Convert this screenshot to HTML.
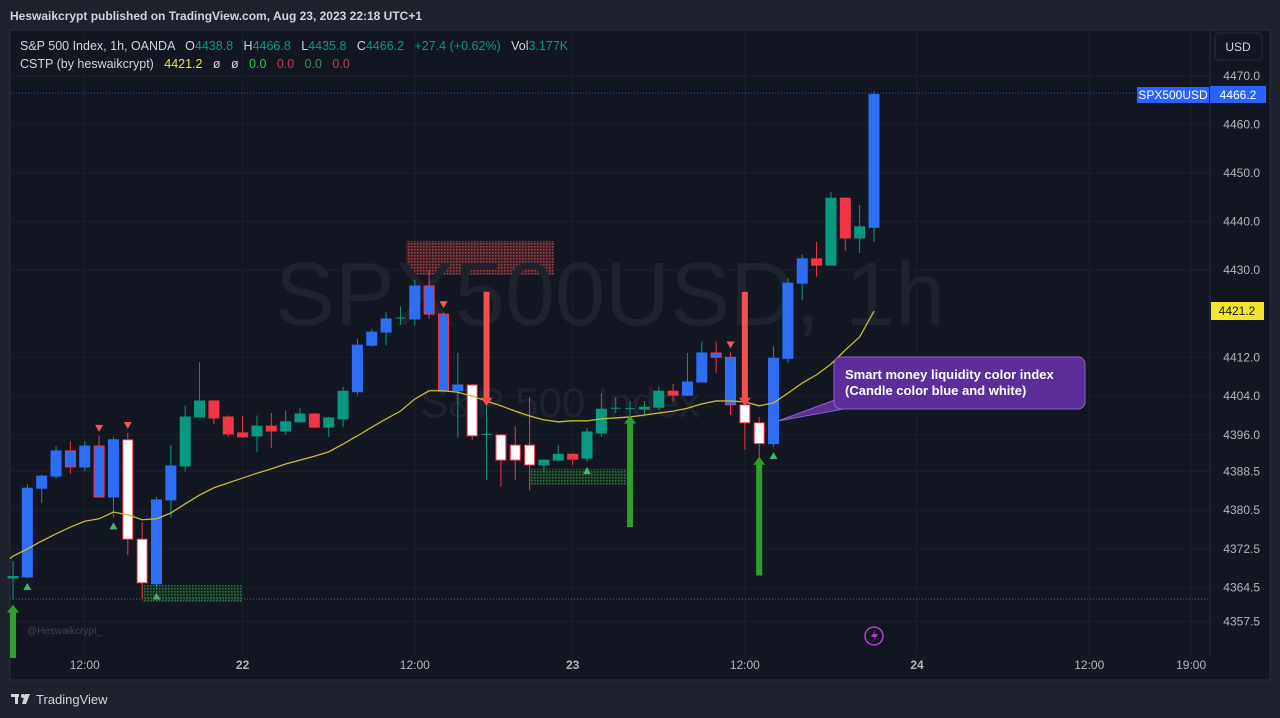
<!DOCTYPE html>
<html><head><meta charset="utf-8">
<style>
html,body{margin:0;padding:0;background:#1e222d;}
svg{display:block;font-family:"Liberation Sans",sans-serif;}
</style></head>
<body>
<svg id="chart" width="1280" height="718" viewBox="0 0 1280 718" xmlns="http://www.w3.org/2000/svg">
<defs>
<pattern id="redDots" width="3" height="3" patternUnits="userSpaceOnUse"><rect width="3" height="3" fill="#3a1e25"/><rect width="1.5" height="1.5" fill="#a8404a"/></pattern>
<pattern id="grnDots" width="3" height="3" patternUnits="userSpaceOnUse"><rect width="3" height="3" fill="#15261f"/><rect width="1.5" height="1.5" fill="#2f7a44"/></pattern>
</defs>
<rect x="0" y="0" width="1280" height="718" fill="#1e222d"/>
<text x="10" y="20" fill="#d1d4dc" font-size="12" font-weight="bold">Heswaikcrypt published on TradingView.com, Aug 23, 2023 22:18 UTC+1</text>
<rect x="10" y="30" width="1260" height="650" fill="#131722" stroke="#2a2e39"/>
<g id="grid"></g>
<g id="zones"></g>
<text x="610" y="325" text-anchor="middle" fill="#1f2330" font-size="90">SPX500USD, 1h</text>
<text x="560" y="417" text-anchor="middle" fill="#1f2330" font-size="42">S&amp;P 500 Index</text>
<g id="marks"></g>
<line x1="10" y1="93" x2="1210" y2="93" stroke="#2962ff" stroke-dasharray="1,2" opacity="0.8"/>
<line x1="10" y1="599" x2="1210" y2="599" stroke="#5d606b" stroke-dasharray="1,2"/>
<g id="callout">
<polygon points="840,398 860,406 778,421" fill="#5b2e99" stroke="#8a63c9"/>
<rect x="834" y="357" width="251" height="52" rx="7" fill="#5b2e99" stroke="#8a63c9"/>
<text x="845" y="379" fill="#fff" font-size="13" font-weight="bold">Smart money liquidity color index</text>
<text x="845" y="395" fill="#fff" font-size="13" font-weight="bold">(Candle color blue and white)</text>
</g>
<g><circle cx="874" cy="636" r="9" fill="none" stroke="#b43fd4" stroke-width="1.5"/><path d="M876 629 L871 637 L875 637 L872 643 L878 634 L874 634 Z" fill="#b43fd4"/></g>
<text x="27" y="634" fill="#3f4350" font-size="10">@Heswaikcrypt_</text>
<text x="20" y="50" font-size="12.5" xml:space="preserve"><tspan fill="#d1d4dc">S&amp;P 500 Index, 1h, OANDA   O</tspan><tspan fill="#089981">4438.8</tspan><tspan fill="#d1d4dc">   H</tspan><tspan fill="#089981">4466.8</tspan><tspan fill="#d1d4dc">   L</tspan><tspan fill="#089981">4435.8</tspan><tspan fill="#d1d4dc">   C</tspan><tspan fill="#089981">4466.2   +27.4 (+0.62%)</tspan><tspan fill="#d1d4dc">   Vol</tspan><tspan fill="#089981">3.177K</tspan></text>
<text x="20" y="68" font-size="12.5" xml:space="preserve"><tspan fill="#d1d4dc">CSTP (by heswaikcrypt)   </tspan><tspan fill="#f0e13a">4421.2</tspan><tspan fill="#d1d4dc">   ø   ø   </tspan><tspan fill="#2ec940">0.0</tspan><tspan fill="#c23c4c">   0.0</tspan><tspan fill="#3a8f4c">   0.0</tspan><tspan fill="#c23c4c">   0.0</tspan></text>
<line x1="1210" y1="30" x2="1210" y2="655" stroke="#2a2e39"/>
<rect x="1215" y="33" width="47" height="27" rx="4" fill="#131722" stroke="#2a2e39"/>
<text x="1238" y="51" text-anchor="middle" fill="#d1d4dc" font-size="12">USD</text>
<g id="yaxis"></g>
<g id="xaxis"></g>
<rect x="1137" y="87" width="72" height="16" fill="#2962ff"/>
<text x="1173" y="99" text-anchor="middle" fill="#fff" font-size="12">SPX500USD</text>
<rect x="1210" y="86" width="56" height="17" fill="#2962ff"/>
<text x="1238" y="99" text-anchor="middle" fill="#fff" font-size="12">4466.2</text>
<rect x="1211" y="302" width="53" height="18" fill="#f5e52a"/>
<text x="1237" y="315" text-anchor="middle" fill="#131722" font-size="12">4421.2</text>
<g><rect x="11" y="694" width="8" height="3" fill="#d1d4dc"/><rect x="15" y="694" width="3" height="10" fill="#d1d4dc"/><circle cx="23" cy="696" r="2" fill="#d1d4dc"/><polygon points="25,694 30,694 26,704 22,704" fill="#d1d4dc"/></g>
<text x="36" y="704" fill="#d1d4dc" font-size="13">TradingView</text>
</svg>
<script>
const opens =  [4366.5,4366.7,4385,4387.5,4392.7,4389.4,4393.7,4383.2,4395,4374.5,4365.3,4382.6,4389.6,4399.7,4403,4399.7,4396.4,4395.8,4397.8,4396.8,4398.7,4400.3,4397.6,4399.3,4404.9,4414.5,4417.2,4420,4419.9,4426.7,4420.9,4405.1,4406.3,4396,4396,4393.9,4393.9,4389.8,4390.8,4392,4391.2,4396.4,4401.3,4401.4,4401.3,4401.7,4405,4404.2,4406.9,4412.9,4412,4402.2,4398.5,4394.2,4411.8,4427.3,4432.3,4431,4444.8,4436.6,4438.8];
const highs =  [4370,4385.8,4387.8,4393.7,4394.7,4394.7,4395.8,4395.6,4396.4,4378,4383.2,4393.9,4402,4411,4403.2,4400,4399.9,4400,4400.5,4401,4401.5,4400.5,4399.7,4405.9,4415.8,4417.8,4421.3,4422.5,4428,4430,4421.3,4412.9,4406.5,4402.6,4396.2,4397.8,4403.8,4390.8,4393.9,4392.2,4397.4,4404.6,4403.8,4403,4403,4406,4406.5,4412.9,4415.2,4415.2,4413,4402.5,4399.7,4414.3,4428.3,4433.2,4435.8,4446.1,4445,4443.4,4466.8];
const lows =   [4362,4366.5,4382,4387,4388,4388.5,4383,4379,4371.2,4362.2,4364.5,4379,4388.4,4399.7,4398.2,4395.6,4395.4,4392.5,4393.3,4396,4398.5,4397.4,4395.6,4397.6,4404.2,4414.2,4414.5,4418.7,4418.5,4420,4404.9,4395.4,4395,4386.7,4385.3,4386.7,4384.6,4388.4,4390.6,4389.8,4390.4,4395.6,4400.5,4399.8,4399.8,4401.2,4402.8,4404,4406.9,4408.8,4400.1,4393,4390.2,4393.5,4410.8,4423.8,4428.6,4431,4434,4433.5,4435.8];
const closes = [4366.8,4385,4387.5,4392.7,4389.4,4393.7,4383.2,4395,4374.5,4365.5,4382.6,4389.6,4399.7,4403,4399.5,4396.2,4395.6,4397.8,4396.8,4398.7,4400.3,4397.6,4399.5,4405,4414.5,4417.2,4419.9,4420.1,4426.7,4420.9,4405,4406.3,4395.8,4396.1,4390.8,4390.8,4389.8,4390.8,4392,4391,4396.6,4401.3,4401.5,4401.4,4401.7,4405,4404.2,4406.9,4412.9,4412,4402.2,4398.5,4394.2,4411.8,4427.3,4432.3,4431,4444.8,4436.6,4438.9,4466.2];
const kinds = "gbbbbbbbwwbbggrrrgrggrgg"+"bbbgbbbb"+"wgwww"+"ggrgggggg"+"r"+"bbbb"+"ww"+"bbb"+"rgrgb";
const maValues = [4371.0,4372.5,4374.1,4375.6,4377.0,4378.2,4378.7,4380.1,4379.5,4378.5,4378.7,4379.9,4381.8,4383.6,4385.1,4386.1,4387.1,4388.1,4389.0,4390.0,4390.8,4391.6,4392.5,4394.1,4395.8,4397.6,4399.3,4400.9,4403.4,4405.1,4405.1,4404.8,4404.0,4403.0,4402.0,4400.9,4399.9,4399.1,4398.7,4398.9,4398.9,4399.3,4399.5,4399.7,4400.1,4400.5,4400.9,4401.5,4402.4,4403.0,4403.0,4402.8,4402.0,4402.6,4404.6,4406.7,4408.4,4410.6,4413.5,4416.2,4421.5];
const priceTicks = [4470,4460,4450,4440,4430,4412,4404,4396,4388.5,4380.5,4372.5,4364.5,4357.5];
const timeLabels = ["12:00","22","12:00","23","12:00","24","12:00","19:00"];
const timeIdx = [5,16,28,39,51,63,75,82.1];
const sellSignals = [6,8,30,50];
const buySignals = [1,7,10,40,53];
const downArrows = [[33,4425.5,4402],[51,4425.5,4402]];
const upArrows = [[43,4377,4400],[52,4367,4391.5],[0,4350,4361]];
const supplyZone = [27.4,37.7,4436,4429];
const demandZones = [[9,16,4365,4361.6],[36.0,42.8,4389,4385.7]];

const NS="http://www.w3.org/2000/svg";
const X=i=>13+i*14.35;
const Y=p=>76+(4470-p)*4.85;
function mk(tag,attrs,parent){const e=document.createElementNS(NS,tag);for(const k in attrs)e.setAttribute(k,attrs[k]);parent.appendChild(e);return e;}
const grid=document.getElementById('grid'),marks=document.getElementById('marks'),ya=document.getElementById('yaxis'),xa=document.getElementById('xaxis'),zones=document.getElementById('zones');
priceTicks.forEach(p=>{
  const l=mk('line',{x1:10,x2:1210,y1:Y(p),y2:Y(p),stroke:'#1c202b'},grid);
  
  
  const t=mk('text',{x:1260,y:Y(p)+4,'text-anchor':'end',fill:'#b2b5be','font-size':12},ya);
  t.textContent=p.toFixed(1);
  
  
});
timeLabels.forEach((s,k)=>{
  const x=X(timeIdx[k]);
  const l=mk('line',{x1:x,x2:x,y1:30,y2:655,stroke:'#1c202b'},grid);
  
  
  const t=mk('text',{x:x,y:669,'text-anchor':'middle',fill:'#b2b5be','font-size':12,'font-weight':s.length<3?'bold':'normal'},xa);
  t.textContent=s;
  
  
});
{const z=mk('rect',{x:X(supplyZone[0]),y:Y(supplyZone[2]),width:X(supplyZone[1])-X(supplyZone[0]),height:Y(supplyZone[3])-Y(supplyZone[2]),fill:'url(#redDots)'},zones);

}
demandZones.forEach(d=>{const z=mk('rect',{x:X(d[0]),y:Y(d[2]),width:X(d[1])-X(d[0]),height:Y(d[3])-Y(d[2]),fill:'url(#grnDots)'},zones);

});
const col={b:['#2e6ef5','#2e6ef5'],w:['#ffffff','#f23645'],g:['#089981','#089981'],r:['#f23645','#f23645']};
opens.forEach((o,i)=>{
  const c=closes[i],k=kinds[i]||'b',x=X(i);
  let fill=col[k][0],stroke=col[k][1];
  if(k==='b'&&c<o)stroke='#f23645';
  const wick=(k==='g'||(k==='b'&&c>=o))?'#089981':'#f23645';
  const g=mk('g',{},marks);
  
  
  mk('line',{x1:x,x2:x,y1:Y(highs[i]),y2:Y(lows[i]),stroke:wick,'stroke-width':1},g);
  const top=Y(Math.max(o,c)),h=Math.max(1.5,Math.abs(Y(o)-Y(c)));
  if(Math.abs(o-c)<0.25&&k==='g') mk('line',{x1:x-5,x2:x+5,y1:top,y2:top,stroke:'#089981'},g);
  else mk('rect',{x:x-5,y:top,width:10,height:h,fill:fill,stroke:stroke,'stroke-width':1},g);
});
{let d='';maValues.forEach((v,i)=>{d+='L'+X(i)+' '+Y(v);});
const p=mk('path',{d:'M10 '+Y(4370.5)+d,fill:'none',stroke:'#c9b935','stroke-width':1.3},marks);

}
sellSignals.forEach(i=>{const y=Y(highs[i])-7;const t=mk('polygon',{points:`${X(i)-4},${y-4} ${X(i)+4},${y-4} ${X(i)},${y+3}`,fill:'#f05a5a'},marks);

});
buySignals.forEach(i=>{const y=Y(lows[i])+8;const t=mk('polygon',{points:`${X(i)-4},${y+4} ${X(i)+4},${y+4} ${X(i)},${y-3}`,fill:'#3fb56a'},marks);

});
downArrows.forEach(a=>{const x=X(a[0]),y1=Y(a[1]),y2=Y(a[2]);const g=mk('g',{},marks);


mk('rect',{x:x-3,y:y1,width:6,height:y2-y1-6,fill:'#f05050'},g);mk('polygon',{points:`${x-6},${y2-8} ${x+6},${y2-8} ${x},${y2}`,fill:'#f05050'},g);});
upArrows.forEach(a=>{const x=Math.max(13,X(a[0])),y1=Y(a[1]),y2=Y(a[2]);const g=mk('g',{},marks);


mk('rect',{x:x-3,y:y2+6,width:6,height:y1-y2-6,fill:'#2e9e2e'},g);mk('polygon',{points:`${x-6},${y2+8} ${x+6},${y2+8} ${x},${y2}`,fill:'#2e9e2e'},g);});
</script>
</body></html>
